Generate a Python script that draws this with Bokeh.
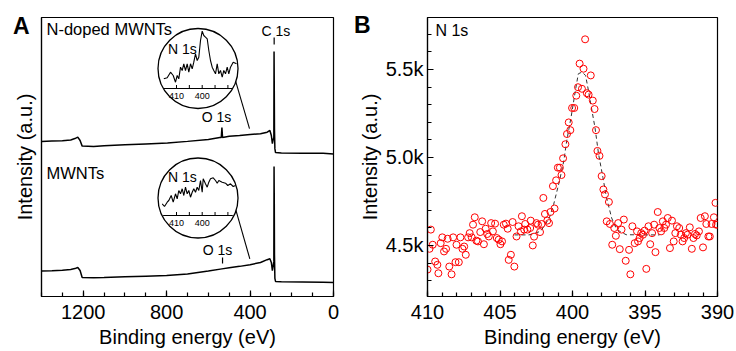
from bokeh.plotting import figure
from bokeh.models import Range1d, SingleIntervalTicker, FixedTicker, PrintfTickFormatter, Label, LinearAxis
from bokeh.layouts import row
from bokeh.embed import file_html
from bokeh.resources import INLINE

FONT = "Liberation Sans"

# ---------------- Panel A: survey spectra ----------------
nd_ev = [1400, 1350, 1300, 1260, 1240, 1226, 1215, 1205, 1150, 1100, 1000, 900, 796, 700, 600,
         545, 538, 535, 532, 500, 450, 400, 350, 318, 305, 298, 293, 289, 286, 285, 284, 283,
         281, 278, 250, 150, 50, 0]
nd_int = [55.6, 55.7, 55.8, 56.1, 56.6, 57.1, 55.9, 53.9, 53.8, 54.0, 54.4, 54.7, 55.0, 55.6, 56.3,
          57.0, 57.0, 60.6, 57.0, 57.4, 57.7, 58.1, 58.3, 58.9, 59.5, 57.7, 54.8, 56.3, 57.0, 87.8,
          75.0, 60.0, 53.0, 51.6, 51.4, 51.3, 51.3, 51.1]

mw_ev = [1400, 1350, 1300, 1260, 1240, 1226, 1215, 1205, 1150, 1100, 1000, 900, 800, 700, 600,
         535, 500, 450, 400, 350, 318, 305, 298, 293, 289, 286, 285, 284, 283, 281, 278, 250,
         150, 50, 0]
mw_int = [9.1, 9.2, 9.4, 9.7, 10.0, 10.4, 9.3, 6.8, 6.7, 6.8, 7.1, 7.3, 7.5, 8.1, 9.1,
          9.9, 10.3, 10.8, 11.4, 12.2, 13.2, 13.5, 12.2, 9.3, 11.1, 12.5, 46.6, 35.0, 15.0, 6.5,
          5.4, 5.3, 5.2, 5.1, 5.0]

# Insets (N 1s region)
inset_nd_ev = [414.94, 413.62, 412.33, 411.28, 410.39, 409.73, 409.11, 408.44, 407.78, 407.16,
               406.50, 405.84, 405.21, 404.55, 403.89, 403.27, 402.61, 401.95, 401.32, 400.66,
               400.00, 399.38, 398.72, 398.05, 397.43, 396.77, 396.11, 395.49, 394.82, 394.16,
               393.54, 392.88, 392.22, 391.60, 390.93, 390.27, 389.65, 388.99, 387.94, 386.65]
inset_nd_int = [9.7, 10.7, 16.3, 13, 6.3, 13, 9.7, 21.3, 18, 24.7,
                18, 24.7, 16.3, 24.7, 19.7, 26.3, 34.7, 28, 31.3, 48,
                57.3, 53, 51.3, 49.7, 38, 28, 21.3, 18, 14.7, 24.7,
                14.7, 18, 11.3, 18, 14.7, 21.3, 14.7, 21.3, 26.3, 24.7]

inset_mw_ev = [415.56, 414.67, 413.62, 413.00, 412.06, 411.28, 410.39, 409.73, 409.11, 408.44,
               407.78, 407.16, 406.50, 405.84, 405.21, 404.55, 403.89, 403.27, 402.61, 401.95,
               401.32, 400.66, 400.00, 399.61, 398.72, 398.05, 397.43, 396.77, 395.72, 394.82,
               394.16, 393.54, 392.22, 390.93, 390.04, 388.99, 387.94, 387.04]
inset_mw_int = [11.7, 9, 13.3, 15, 20, 13.3, 21.7, 16.7, 25, 21.7,
                26.7, 20, 28.3, 21.7, 25, 18.3, 23.3, 26.7, 23.3, 28.3,
                25, 35, 23.3, 36.7, 31.7, 28.3, 33.3, 36.7, 37.7, 35,
                32.3, 35, 33.3, 32.3, 30, 31.7, 29, 30]
inset_ticks = [410, 405, 400, 395, 390]
inset_tick_labels = ["410", "400"]

# ---------------- Panel B: N 1s high resolution ----------------
n1s_ev = [410.00, 409.86, 409.77, 409.64, 409.47, 409.32, 409.25, 409.09, 408.98, 408.86,
          408.72, 408.61, 408.50, 408.34, 408.23, 408.07, 408.00, 407.84, 407.73, 407.59,
          407.47, 407.36, 407.20, 407.09, 406.95, 406.86, 406.74, 406.63, 406.52, 406.36,
          406.23, 406.11, 405.99, 405.88, 405.77, 405.61, 405.49, 405.34, 405.22, 405.09,
          404.97, 404.86, 404.74, 404.59, 404.47, 404.40, 404.25, 404.13, 404.01, 403.86,
          403.72, 403.56, 403.49, 403.33, 403.26, 403.11, 402.92, 402.88, 402.74, 402.65,
          402.49, 402.38, 402.24, 402.13, 402.01, 401.90, 401.74, 401.62, 401.52, 401.35,
          401.24, 401.13, 401.01, 400.87, 400.76, 400.65, 400.49, 400.38, 400.26, 400.15,
          400.03, 399.88, 399.74, 399.62, 399.51, 399.35, 399.24, 399.13, 399.01, 398.89,
          398.74, 398.60, 398.48, 398.38, 398.28, 398.14, 397.99, 397.87, 397.76, 397.64,
          397.49, 397.42, 397.26, 397.12, 397.01, 396.85, 396.74, 396.62, 396.46, 396.33,
          396.10, 396.01, 395.87, 395.71, 395.55, 395.48, 395.37, 395.26, 395.14, 395.03,
          394.91, 394.76, 394.64, 394.51, 394.37, 394.28, 394.12, 394.01, 393.89, 393.77,
          393.67, 393.55, 393.43, 393.28, 393.14, 393.02, 392.91, 392.80, 392.64, 392.53,
          392.41, 392.30, 392.18, 392.07, 391.91, 391.77, 391.66, 391.55, 391.43, 391.28,
          391.16, 391.00, 390.87, 390.77, 390.63, 390.53, 390.41, 390.25, 390.14, 390.10,
          390.00]
n1s_int = [4.363, 4.481, 4.590, 4.504, 4.409, 4.390, 4.342, 4.513, 4.546, 4.466,
           4.481, 4.538, 4.380, 4.336, 4.546, 4.405, 4.504, 4.405, 4.546, 4.481,
           4.494, 4.447, 4.546, 4.570, 4.546, 4.618, 4.660, 4.527, 4.523, 4.576,
           4.637, 4.507, 4.595, 4.565, 4.551, 4.627, 4.580, 4.624, 4.542, 4.533,
           4.507, 4.523, 4.618, 4.624, 4.595, 4.418, 4.447, 4.633, 4.380, 4.551,
           4.609, 4.580, 4.666, 4.590, 4.622, 4.590, 4.599, 4.641, 4.500, 4.550,
           4.627, 4.618, 4.576, 4.622, 4.770, 4.679, 4.641, 4.627, 4.690, 4.837,
           4.710, 4.870, 4.942, 4.942, 4.900, 4.995, 5.075, 5.133, 5.199, 5.155,
           5.281, 5.281, 5.351, 5.399, 5.533, 5.390, 5.504, 5.671, 5.365, 5.357,
           5.466, 5.323, 5.275, 5.155, 5.037, 5.009, 4.894, 4.818, 4.790, 4.637,
           4.747, 4.622, 4.504, 4.599, 4.555, 4.627, 4.479, 4.590, 4.647, 4.413,
           4.475, 4.336, 4.609, 4.513, 4.580, 4.523, 4.542, 4.570, 4.561, 4.584,
           4.367, 4.609, 4.507, 4.570, 4.618, 4.462, 4.690, 4.599, 4.580, 4.637,
           4.599, 4.618, 4.656, 4.485, 4.641, 4.523, 4.570, 4.609, 4.599, 4.561,
           4.523, 4.542, 4.570, 4.561, 4.603, 4.481, 4.542, 4.565, 4.557, 4.580,
           4.656, 4.489, 4.666, 4.622, 4.551, 4.551, 4.622, 4.660, 4.742, 4.618,
           4.618]

fit_ev = [404.0, 403.0, 402.2, 401.6, 401.3, 400.9, 400.6, 400.4, 400.1, 399.8, 399.6, 399.35,
          399.1, 398.9, 398.7, 398.45, 398.2, 397.9, 397.65, 397.3, 396.95, 396.3, 395.0, 394.0]
fit_int = [4.56, 4.56, 4.58, 4.656, 4.733, 4.866, 4.98, 5.094, 5.228, 5.38, 5.475, 5.485,
           5.466, 5.38, 5.285, 5.17, 5.018, 4.885, 4.77, 4.656, 4.59, 4.561, 4.56, 4.56]

panel_letters = ["A", "B"]


def style(p):
    p.grid.visible = False
    p.outline_line_color = "black"
    p.outline_line_alpha = 1
    p.outline_line_width = 1.2
    p.background_fill_color = "white"
    p.border_fill_color = "white"
    for ax in p.axis:
        style_axis(ax)


def style_axis(ax):
    ax.axis_line_width = 1.2
    ax.axis_line_color = "black"
    ax.major_tick_in = 6
    ax.major_tick_out = 0
    ax.minor_tick_in = 4
    ax.minor_tick_out = 0
    ax.major_tick_line_color = "black"
    ax.minor_tick_line_color = "black"
    ax.major_tick_line_width = 1.2
    ax.minor_tick_line_width = 1.2
    ax.major_label_text_font = FONT
    ax.major_label_text_font_size = "20px"
    ax.major_label_text_color = "black"
    ax.axis_label_text_font = FONT
    ax.axis_label_text_font_size = "20px"
    ax.axis_label_text_font_style = "normal"
    ax.axis_label_text_color = "black"


def letter_style(ax, letter, tick, standoff, label_standoff):
    # an axis whose single tick label is the panel letter and which also carries the y label
    ax.ticker = FixedTicker(ticks=[tick])
    ax.major_label_overrides = {tick: letter}
    ax.major_label_text_font_style = "bold"
    ax.major_label_text_font_size = "23px"
    ax.major_label_standoff = standoff
    ax.major_tick_line_color = None
    ax.minor_tick_line_color = None
    ax.axis_label = "Intensity (a.u.)"
    ax.axis_label_standoff = label_standoff


def lab(p, x, y, text, size, align="left", style_="normal", **kw):
    p.add_layout(Label(x=x, y=y, text=text, text_font=FONT, text_font_size=size,
                       text_align=align, text_baseline="middle", text_font_style=style_,
                       text_color="black", **kw))


# ---------- figure A ----------
pA = figure(width=355, height=351, x_range=Range1d(1400, 0), y_range=Range1d(0, 100),
            output_backend="svg", toolbar_location=None,
            min_border_left=41, min_border_right=22, min_border_top=17, min_border_bottom=55)
pA.extra_x_ranges = {"inset": Range1d(462.53, 348.91)}
pA.extra_y_ranges = {"top": Range1d(-208, 71), "bot": Range1d(-81, 198)}
style(pA)
pA.xaxis.ticker = SingleIntervalTicker(interval=400, num_minor_ticks=4)
pA.xaxis.axis_label = "Binding energy (eV)"
pA.xaxis.major_label_standoff = 8
pA.xaxis.axis_label_standoff = 4
letter_style(pA.yaxis[0], panel_letters[0], 97, 12, -26)

pA.line(nd_ev, nd_int, line_color="black", line_width=1.5)
pA.line(mw_ev, mw_int, line_color="black", line_width=1.5)

# peak markers
pA.segment(x0=[284.5, 532], y0=[92.8, 14.0], x1=[284.5, 532], y1=[90.3, 11.8],
           line_color="black", line_width=1.2)
# leader lines to insets
pA.segment(x0=[470, 470], y0=[77.4, 31.5], x1=[402.7, 401.2], y1=[60.2, 13.5],
           line_color="black", line_width=1.1)

lab(pA, 1376, 95.7, "N-doped MWNTs", "16.5px")
lab(pA, 1376, 44.4, "MWNTs", "16.5px")
lab(pA, 276, 95.3, "C 1s", "14px", align="center")
lab(pA, 561, 64.2, "O 1s", "14px", align="center")
lab(pA, 556, 16.8, "O 1s", "14px", align="center")

for rng, cy, ty, ev, it in (("top", 20, 40, inset_nd_ev, inset_nd_int),
                            ("bot", 17.5, 38.3, inset_mw_ev, inset_mw_int)):
    pA.scatter(x=[401.63], y=[cy], size=80, marker="circle", fill_color="white",
               line_color="black", line_width=1.3, x_range_name="inset", y_range_name=rng)
    pA.line(ev, it, line_color="black", line_width=1.1, x_range_name="inset", y_range_name=rng)
    pA.segment(x0=[415.2], y0=[0], x1=[388.1], y1=[0], line_color="black", line_width=1.1,
               x_range_name="inset", y_range_name=rng)
    pA.segment(x0=inset_ticks, y0=[0] * len(inset_ticks), x1=inset_ticks, y1=[3.5] * len(inset_ticks),
               line_color="black", line_width=1, x_range_name="inset", y_range_name=rng)
    for t in inset_tick_labels:
        lab(pA, float(t), -7, t, "9px", align="center", x_range_name="inset", y_range_name=rng)
    lab(pA, 407.7, ty, "N 1s", "14px", align="center", x_range_name="inset", y_range_name=rng)

# ---------- figure B ----------
pB = figure(width=381, height=351, x_range=Range1d(410, 390), y_range=Range1d(4.21, 5.795),
            output_backend="svg", toolbar_location=None,
            min_border_left=69, min_border_right=19, min_border_top=17, min_border_bottom=55)
style(pB)
pB.xaxis.ticker = SingleIntervalTicker(interval=5, num_minor_ticks=5)
pB.yaxis.ticker = SingleIntervalTicker(interval=0.5, num_minor_ticks=5)
pB.yaxis.formatter = PrintfTickFormatter(format="%.1fk")
pB.xaxis.axis_label = "Binding energy (eV)"
pB.xaxis.major_label_standoff = 8
pB.xaxis.axis_label_standoff = 4
pB.yaxis.major_label_standoff = 4

outer = LinearAxis(axis_line_color=None)
style_axis(outer)
outer.axis_line_color = None
letter_style(outer, panel_letters[1], 5.75, 12, -30)
pB.add_layout(outer, "left")

pB.line(fit_ev, fit_int, line_dash="4 3", line_color="#333333", line_width=1)
pB.scatter(n1s_ev, n1s_int, marker="circle", size=7, fill_color=None, line_color="red", line_width=1)
lab(pB, 409.45, 5.72, "N 1s", "16px")

layout = row(pA, pB)
open("out.html", "w").write(file_html(layout, INLINE))
